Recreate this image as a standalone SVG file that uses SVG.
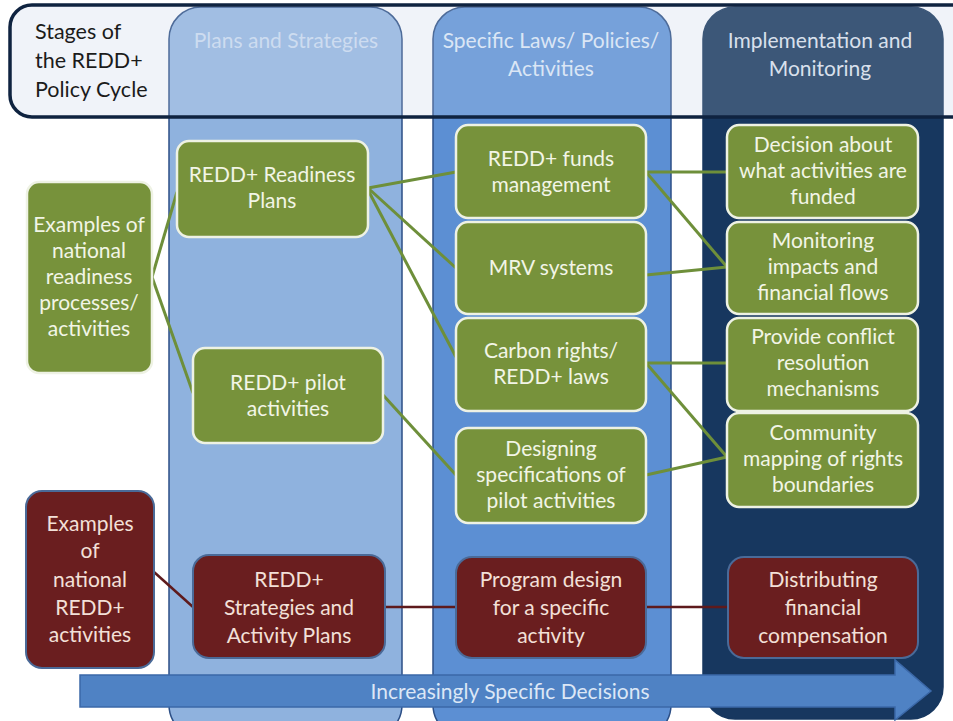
<svg xmlns="http://www.w3.org/2000/svg" width="953" height="721" viewBox="0 0 953 721">
<defs>
<style>
.t{font-family:Lato,"Open Sans","Liberation Sans",sans-serif;font-size:21px;text-anchor:middle}
.g rect{fill:#77923b;stroke:#eef2e4;stroke-width:2.5}
.g text{fill:#f2f5e6}
.m rect{fill:#6a1e1f;stroke:#4a6a98;stroke-width:2}
.m text{fill:#f3e0d8}
.gl{stroke:#6e8f3a;stroke-width:3;fill:none}
.ml{stroke:#5e1a1c;stroke-width:2.5;fill:none}
.hd{font-family:Lato,"Open Sans","Liberation Sans",sans-serif;font-size:21px;text-anchor:middle}
</style>
</defs>
<rect width="953" height="721" fill="#ffffff"/>
<!-- header background -->
<rect x="10" y="5" width="970" height="112" rx="22" fill="#edf1f8"/>
<!-- columns -->
<g id="col-plans">
<rect x="169" y="7" width="233" height="730" rx="32" fill="#8fb2de" stroke="#2c4f86" stroke-width="1.5"/>
</g>
<g id="col-laws">
<rect x="433" y="7" width="238" height="730" rx="32" fill="#5c8fd3" stroke="#2c4f86" stroke-width="1.5"/>
</g>
<g id="col-impl">
<rect x="703" y="7" width="240" height="712" rx="32" fill="#17375f" stroke="#17375f" stroke-width="1.5"/>
</g>
<!-- header overlay and border -->
<g id="header">
<rect x="10" y="5" width="970" height="112" rx="22" fill="#ffffff" fill-opacity="0.16" stroke="#0f2340" stroke-width="3.5"/>
<text style="font-family:Lato,'Open Sans','Liberation Sans',sans-serif;font-size:21.5px" fill="#1b1b1b"><tspan x="35" y="39">Stages of</tspan><tspan x="35" y="68">the REDD+</tspan><tspan x="35" y="97">Policy Cycle</tspan></text>
<text class="hd" fill="#cddcf0" x="286" y="48">Plans and Strategies</text>
<text class="hd" fill="#dbe6f5"><tspan x="551" y="48">Specific Laws/ Policies/</tspan><tspan x="551" y="76">Activities</tspan></text>
<text class="hd" fill="#d9e0ec"><tspan x="820" y="48">Implementation and</tspan><tspan x="820" y="76">Monitoring</tspan></text>
</g>
<!-- arrow -->
<g id="arrow">
<path d="M80,675 H895 V660 L931,691 L895,720 V707 H80 Z" fill="#4f82c4" stroke="#3b68a8" stroke-width="1.5"/>
<text class="t" fill="#dce7f6" x="510" y="699">Increasingly Specific Decisions</text>
</g>
<!-- connectors -->
<g id="connectors">
<path class="gl" d="M152,277 L177,192"/>
<path class="gl" d="M152,277 L193,393"/>
<path class="gl" d="M368,188 L456,172"/>
<path class="gl" d="M368,188 L456,268"/>
<path class="gl" d="M368,190 L456,357"/>
<path class="gl" d="M383,395 L456,475"/>
<path class="gl" d="M646,172 L727,172"/>
<path class="gl" d="M646,172 L727,267"/>
<path class="gl" d="M646,275 L727,267"/>
<path class="gl" d="M646,363 L727,363"/>
<path class="gl" d="M646,363 L727,457"/>
<path class="gl" d="M646,475 L727,457"/>
<path class="ml" d="M154,572 L193,607"/>
<path class="ml" d="M385,607 L456,607"/>
<path class="ml" d="M646,607 L728,607"/>
</g>
<!-- green nodes -->
<g id="n-examples-readiness" class="g t"><rect x="27" y="182" width="125" height="191" rx="12"/><text><tspan x="89" y="232">Examples of</tspan><tspan x="89" y="258">national</tspan><tspan x="89" y="284">readiness</tspan><tspan x="89" y="310">processes/</tspan><tspan x="89" y="336">activities</tspan></text></g>
<g id="n-readiness-plans" class="g t"><rect x="177" y="141" width="191" height="96" rx="12"/><text><tspan x="272" y="182">REDD+ Readiness</tspan><tspan x="272" y="208">Plans</tspan></text></g>
<g id="n-pilot" class="g t"><rect x="193" y="348" width="190" height="95" rx="12"/><text><tspan x="288" y="390">REDD+ pilot</tspan><tspan x="288" y="416">activities</tspan></text></g>
<g id="n-funds" class="g t"><rect x="456" y="125" width="190" height="93" rx="12"/><text><tspan x="551" y="166">REDD+ funds</tspan><tspan x="551" y="192">management</tspan></text></g>
<g id="n-mrv" class="g t"><rect x="456" y="222" width="190" height="92" rx="12"/><text x="551" y="275">MRV systems</text></g>
<g id="n-carbon" class="g t"><rect x="456" y="318" width="190" height="93" rx="12"/><text><tspan x="551" y="358">Carbon rights/</tspan><tspan x="551" y="384">REDD+ laws</tspan></text></g>
<g id="n-designing" class="g t"><rect x="456" y="428" width="190" height="95" rx="12"/><text><tspan x="551" y="456">Designing</tspan><tspan x="551" y="482">specifications of</tspan><tspan x="551" y="508">pilot activities</tspan></text></g>
<g id="n-decision" class="g t"><rect x="727" y="125" width="191" height="93" rx="12"/><text><tspan x="823" y="152">Decision about</tspan><tspan x="823" y="178">what activities are</tspan><tspan x="823" y="204">funded</tspan></text></g>
<g id="n-monitoring" class="g t"><rect x="727" y="222" width="191" height="92" rx="12"/><text><tspan x="823" y="248">Monitoring</tspan><tspan x="823" y="274">impacts and</tspan><tspan x="823" y="300">financial flows</tspan></text></g>
<g id="n-conflict" class="g t"><rect x="727" y="318" width="191" height="93" rx="12"/><text><tspan x="823" y="344">Provide conflict</tspan><tspan x="823" y="370">resolution</tspan><tspan x="823" y="396">mechanisms</tspan></text></g>
<g id="n-community" class="g t"><rect x="727" y="413" width="191" height="94" rx="12"/><text><tspan x="823" y="440">Community</tspan><tspan x="823" y="466">mapping of rights</tspan><tspan x="823" y="492">boundaries</tspan></text></g>
<!-- maroon nodes -->
<g id="n-examples-redd" class="m t"><rect x="26" y="491" width="128" height="177" rx="16"/><text><tspan x="90" y="531">Examples</tspan><tspan x="90" y="558">of</tspan><tspan x="90" y="587">national</tspan><tspan x="90" y="615">REDD+</tspan><tspan x="90" y="642">activities</tspan></text></g>
<g id="n-strategies" class="m t"><rect x="193" y="555" width="192" height="103" rx="16"/><text><tspan x="289" y="587">REDD+</tspan><tspan x="289" y="615">Strategies and</tspan><tspan x="289" y="643">Activity Plans</tspan></text></g>
<g id="n-program" class="m t"><rect x="456" y="557" width="190" height="101" rx="16"/><text><tspan x="551" y="587">Program design</tspan><tspan x="551" y="615">for a specific</tspan><tspan x="551" y="643">activity</tspan></text></g>
<g id="n-distributing" class="m t"><rect x="728" y="557" width="190" height="101" rx="16"/><text><tspan x="823" y="587">Distributing</tspan><tspan x="823" y="615">financial</tspan><tspan x="823" y="643">compensation</tspan></text></g>
</svg>
